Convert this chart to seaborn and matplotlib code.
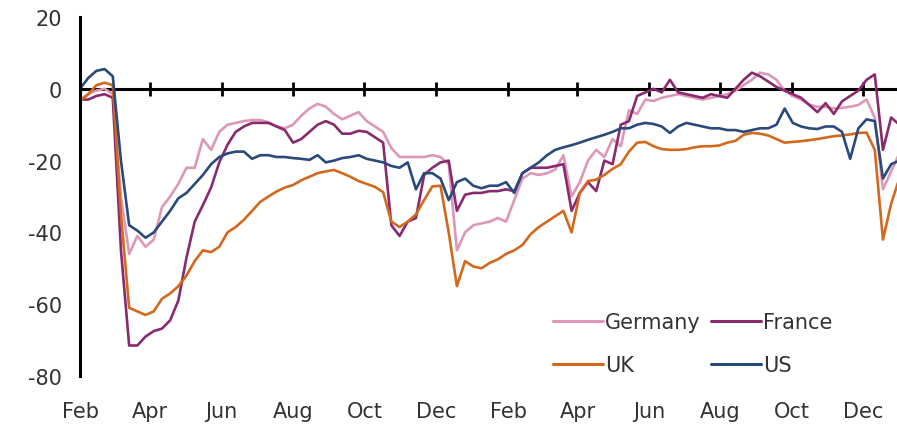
import numpy as np
import pandas as pd
import matplotlib
matplotlib.use("Agg")
import matplotlib.pyplot as plt
import matplotlib.dates as mdates
from matplotlib.lines import Line2D
import seaborn as sns

# ---------------- data (weekly readings, % vs baseline) ----------------
start = "2020-02-01"
n_weeks = 101
countries = ["Germany", "France", "UK", "US"]

germany = [-3, -1.5, -0.5, 0, -1.5, -30, -46, -41, -44, -42,
           -33, -30, -26.5, -22, -22, -14, -17, -12, -10, -9.5,
           -9, -8.7, -8.7, -9.3, -10.5, -11, -10, -7.5, -5.5, -4.2,
           -5, -7, -8.5, -7.5, -6.5, -9, -10.5, -12, -16.5, -19,
           -19, -19, -19, -18.5, -19, -21, -45, -40, -38, -37.5,
           -37, -36, -37, -31, -25, -23.5, -24, -23.5, -22.5, -18.5,
           -30, -26, -20, -17, -19, -14, -16, -6, -7, -3,
           -3.4, -2.5, -2, -1.5, -2, -2.5, -3, -2.5, -2, -1.5,
           -0.5, 1, 2.5, 4.5, 4, 2.5, -0.5, -2, -3, -4.4,
           -5, -5, -5.5, -5.3, -5, -4.5, -3, -8, -28, -23,
           -18]

france = [-3, -3, -2, -1.5, -2.5, -45, -71.5, -71.5, -69, -67.5,
          -66.8, -64.5, -59, -47, -37, -32.4, -27.5, -20.5, -15.6, -12,
          -10.5, -9.5, -9.5, -9.5, -10.5, -11.5, -15, -14, -12, -10,
          -9, -10, -12.5, -12.5, -11.7, -12, -13.5, -15, -38, -41,
          -37, -36, -24, -22, -20.5, -20, -34, -29.5, -29, -29,
          -28.5, -28.5, -28, -28.5, -23.5, -22, -22, -22, -21.5, -21,
          -34, -29, -26, -28.5, -20, -21, -10, -9, -2, -1,
          0, -1, 2.5, -1, -1.5, -2, -2.5, -1.5, -2, -2.5,
          0, 2.5, 4.5, 3.5, 2, 0.5, -0.5, -1.5, -2.5, -4.5,
          -6.5, -4, -7, -3.5, -2, -0.5, 2.5, 4, -17, -8,
          -10]

uk = [-3.5, -1.5, 1, 1.7, 1, -35, -61, -62, -63, -62,
      -58.5, -57, -55, -52, -48, -45, -45.5, -44, -40, -38.5,
      -36.5, -34, -31.5, -30, -28.6, -27.5, -26.8, -25.5, -24.5, -23.5,
      -23, -22.6, -23.5, -24.5, -25.7, -26.5, -27.3, -28.8, -37, -38.5,
      -37, -35, -31, -27.2, -27, -40, -55, -48, -49.5, -50,
      -48.5, -47.5, -46, -45, -43.5, -40.5, -38.5, -37, -35.5, -34,
      -40, -29, -25.7, -25.3, -24, -22.3, -21, -17.5, -15, -14.8,
      -16, -16.8, -17, -17, -16.8, -16.3, -16, -16, -15.8, -15,
      -14.5, -12.8, -12.3, -12.5, -13, -14, -15, -14.8, -14.6, -14.3,
      -14, -13.6, -13.2, -13, -12.7, -12.3, -12.2, -17, -42, -32,
      -25]

us = [0, 3, 5, 5.5, 3.5, -20, -38, -39.5, -41.5, -40,
      -37, -34, -30.5, -29, -26.5, -24, -21, -19, -18, -17.5,
      -17.5, -19.5, -18.5, -18.5, -19, -19, -19.3, -19.5, -19.8, -18.5,
      -20.5, -20, -19.3, -19, -18.5, -19.5, -20, -20.5, -21.5, -22,
      -20.5, -28, -23.5, -23.5, -25, -31, -26, -25, -27, -27.7,
      -27, -27, -26, -29, -23.5, -22, -20.5, -18.5, -17, -16.3,
      -15.7, -15, -14.2, -13.5, -12.8, -12, -11, -11, -10, -9.5,
      -9.8, -10.5, -12.3, -10.5, -9.5, -10, -10.5, -11, -11, -11.5,
      -11.5, -12, -11.5, -11, -11, -10, -5.5, -9.5, -10.5, -11,
      -11.2, -10.5, -10.5, -12, -19.5, -11, -8.5, -9, -25, -21,
      -20]

tick_dates = ["2020-02-01", "2020-04-01", "2020-06-01", "2020-08-01",
              "2020-10-01", "2020-12-01", "2021-02-01", "2021-04-01",
              "2021-06-01", "2021-08-01", "2021-10-01", "2021-12-01"]
tick_labels = ["Feb", "Apr", "Jun", "Aug", "Oct", "Dec",
               "Feb", "Apr", "Jun", "Aug", "Oct", "Dec"]

colors = {"Germany": "#DE98B7", "France": "#8A2A6E",
          "UK": "#D2691E", "US": "#2A4A7C"}

# ---------------- build table ----------------
dates = pd.date_range(start, periods=n_weeks, freq="7D")
xnum = mdates.date2num(dates)
series = {"Germany": germany, "France": france, "UK": uk, "US": us}
df = pd.concat([pd.DataFrame({"x": xnum, "value": vals, "country": name})
                for name, vals in series.items()], ignore_index=True)

# ---------------- plot ----------------
sns.set_style("white")
plt.rcParams["font.family"] = ["DejaVu Sans"]
plt.rcParams["axes.unicode_minus"] = False

fig = plt.figure(figsize=(8.97, 4.27), dpi=100)
ax = fig.add_axes([80 / 897, 1 - 377 / 427, 1 - 80 / 897, (377 - 18) / 427])

sns.lineplot(data=df, x="x", y="value", hue="country", hue_order=countries,
             palette=colors, linewidth=1.9, ax=ax, legend=False)

x0 = mdates.date2num(pd.Timestamp(start))
ax.set_xlim(x0, x0 + 698)
ax.set_ylim(-80, 20)
ax.set_yticks([-80, -60, -40, -20, 0, 20])
ax.set_xlabel("")
ax.set_ylabel("")

tick_pos = mdates.date2num(pd.to_datetime(tick_dates))
ax.set_xticks(tick_pos)
ax.set_xticklabels(tick_labels)

text_color = "#333333"
for s in ["top", "right", "bottom"]:
    ax.spines[s].set_visible(False)
ax.spines["left"].set_linewidth(2.2)
ax.spines["left"].set_color("black")
ax.tick_params(axis="x", length=0, pad=18, labelsize=15, labelcolor=text_color)
ax.tick_params(axis="y", direction="in", length=6, width=2, pad=13,
               labelsize=15, colors="black", labelcolor=text_color)

# zero line with its month ticks
sec = ax.secondary_xaxis(0.8)
sec.set_xticks(tick_pos)
sec.tick_params(axis="x", direction="inout", length=10, width=2,
                labeltop=False, labelbottom=False, colors="black")
for s in sec.spines.values():
    s.set_visible(False)
sec.spines["top"].set_visible(True)
sec.spines["top"].set_linewidth(2.2)
sec.spines["top"].set_color("black")

# legend: row 1 Germany / France, row 2 UK / US
order = ["Germany", "UK", "France", "US"]
handles = [Line2D([], [], color=colors[c], linewidth=2.2) for c in order]
fig.legend(handles, order, ncol=2, frameon=False, fontsize=15,
           loc="upper left", bbox_to_anchor=(553 / 897, 1 - 313 / 427),
           bbox_transform=fig.transFigure, borderaxespad=0, borderpad=0,
           handlelength=2.4, handletextpad=0.1, columnspacing=0.5,
           labelspacing=1.1, labelcolor=text_color)

fig.savefig("out.png", dpi=100)
